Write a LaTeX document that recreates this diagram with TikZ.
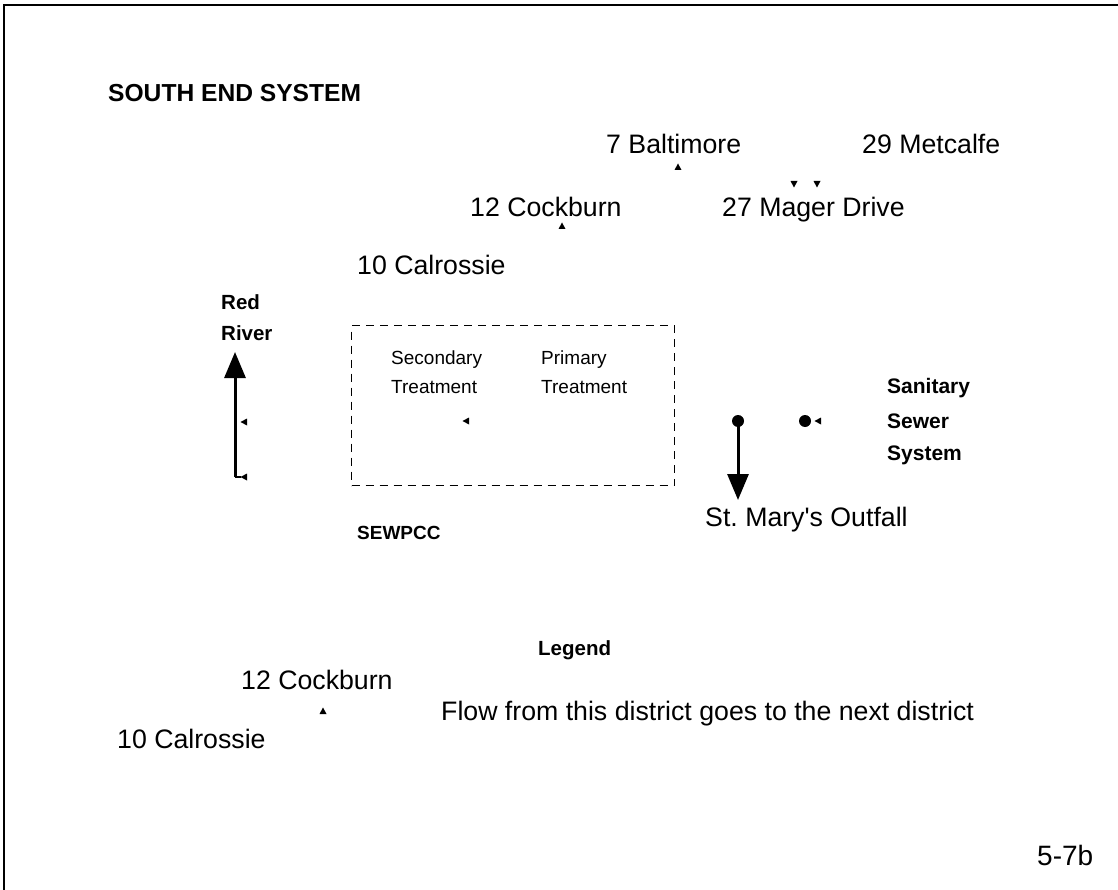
\documentclass[tikz,border=0pt]{standalone}
\usepackage{fontspec}
\setmainfont{Liberation Sans}
\usetikzlibrary{arrows.meta,positioning}

\tikzset{
  txt/.style={font=\fontsize{26.7}{30}\selectfont, anchor=base west, inner sep=0pt},
  btxt/.style={font=\fontsize{20.5}{24}\selectfont\bfseries, anchor=base west, inner sep=0pt},
  stxt/.style={font=\fontsize{19}{22}\selectfont, anchor=base west, inner sep=0pt},
  % y grows downwards in this picture, so the tips are written with that in mind
  tup/.pic={\fill (-3.5,3) -- (3.5,3) -- (0,-3.5) -- cycle;},
  tdown/.pic={\fill (-3.5,-3) -- (3.5,-3) -- (0,3.5) -- cycle;},
  tleft/.pic={\fill (3,-3.5) -- (3,3.5) -- (-3.5,0) -- cycle;},
  bigflow/.style={line width=3pt, -{Triangle[width=21pt, length=26pt]}}
}

\begin{document}
\frenchspacing
\begin{tikzpicture}[x=1pt, y=-1pt]
	\useasboundingbox (0,0) rectangle (1118,890);

	% ---------- frame (only top and left edges survive the scan)
	\draw[line width=2pt] (4,890) -- (4,5) -- (1118,5);

	% ---------- title
	\node[txt, font=\fontsize{24.6}{28}\selectfont\bfseries] (title) at (108,102) {SOUTH END SYSTEM};

	% ---------- districts
	\node[txt] (balt) at (606,154) {7 Baltimore};
	\node[txt] (metc) at (862,154) {29 Metcalfe};
	\node[txt] (cock) at (470,217) {12 Cockburn};
	\node[txt] (mager) at (722,217) {27 Mager Drive};
	\node[txt] (calr) at (357,275) {10 Calrossie};

	\pic at (678,167) {tup};
	\pic at (562,226) {tup};
	\pic at (794,184) {tdown};
	\pic at (817,184) {tdown};

	% ---------- river
	\node[btxt] (red) at (221,309) {Red};
	\node[btxt] (river) at (221,340) {River};
	\coordinate (rbot) at (235,477);
	\coordinate (rtop) at (235,352);
	\draw[bigflow] (rbot) -- (rtop);
	\draw[line width=2pt] (rbot) -- ++(6,0);
	\pic at (244,422) {tleft};
	\pic at (244,477) {tleft};

	% ---------- treatment plant
	\node[draw, dashed, dash pattern=on 8pt off 6pt, line width=1.2pt, anchor=north west,
		minimum width=323pt, minimum height=160pt, inner sep=0pt] (plant) at (351,325) {};
	\node[stxt] (sec) at (391,364) {Secondary};
	\node[stxt] (sectr) at (391,393) {Treatment};
	\node[stxt] (prim) at (541,364) {Primary};
	\node[stxt] (primtr) at (541,393) {Treatment};
	\pic at (466,421) {tleft};
	\node[btxt, font=\fontsize{19}{22}\selectfont\bfseries] (sewpcc) at (357,539) {SEWPCC};

	% ---------- outfall and sewer system
	\fill (738,421) circle (6) coordinate (odot);
	\coordinate (otip) at (738,500);
	\draw[bigflow] (odot) -- (otip);
	\node[txt] (outfall) at (705,526) {St. Mary\textquotesingle s Outfall};

	\fill (805,421) circle (6) coordinate (sdot);
	\pic at (818,421) {tleft};
	\node[btxt, font=\fontsize{21}{24}\selectfont\bfseries] (sanit) at (887,393) {Sanitary};
	\node[btxt, font=\fontsize{21}{24}\selectfont\bfseries] (sewer) at (887,428) {Sewer};
	\node[btxt, font=\fontsize{21}{24}\selectfont\bfseries] (system) at (887,460) {System};

	% ---------- legend
	\node[btxt] (legend) at (538,655) {Legend};
	\node[txt] (lcock) at (241,689) {12 Cockburn};
	\pic at (323,711) {tup};
	\node[txt] (lflow) at (441,720) {Flow from this district goes to the next district};
	\node[txt] (lcalr) at (117,748) {10 Calrossie};

	\node[txt, font=\fontsize{28}{32}\selectfont] (fig) at (1037,865) {5-7b};
\end{tikzpicture}
\end{document}
